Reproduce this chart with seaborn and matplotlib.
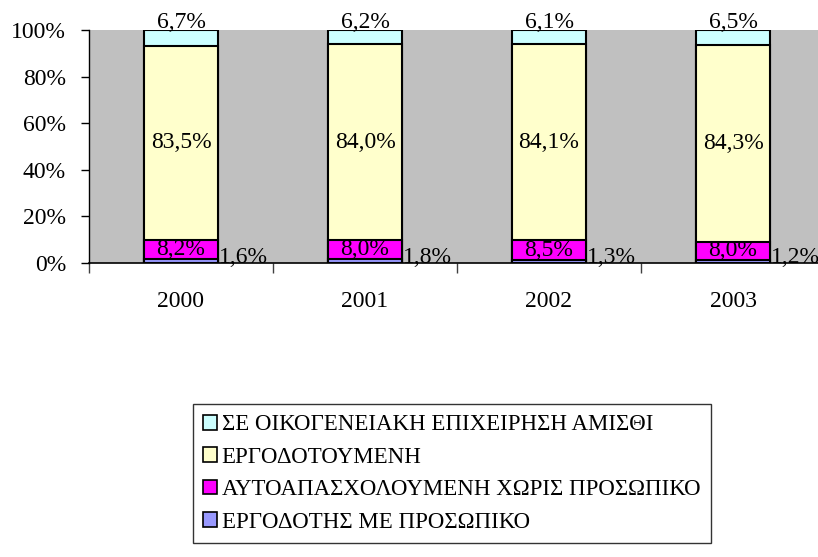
import pandas as pd
import seaborn as sns
import matplotlib.pyplot as plt
from matplotlib.patches import Patch
from matplotlib.ticker import FixedLocator

# Dados (% por ano)
anos = ["2000", "2001", "2002", "2003"]
series = [
    "ΕΡΓΟΔΟΤΗΣ ΜΕ ΠΡΟΣΩΠΙΚΟ",
    "ΑΥΤΟΑΠΑΣΧΟΛΟΥΜΕΝΗ ΧΩΡΙΣ ΠΡΟΣΩΠΙΚΟ",
    "ΕΡΓΟΔΟΤΟΥΜΕΝΗ",
    "ΣΕ ΟΙΚΟΓΕΝΕΙΑΚΗ ΕΠΙΧΕΙΡΗΣΗ ΑΜΙΣΘΙ",
]
ergodotis = [1.6, 1.8, 1.3, 1.2]
aftoapasx = [8.2, 8.0, 8.5, 8.0]
ergodotoumeni = [83.5, 84.0, 84.1, 84.3]
oikogeneiaki = [6.7, 6.2, 6.1, 6.5]
cores = ["#9999FF", "#FF00FF", "#FFFFCC", "#CCFFFF"]

valores = [ergodotis, aftoapasx, ergodotoumeni, oikogeneiaki]
df = pd.DataFrame({"ANO": anos})
for nome, vals in zip(series, valores):
    df[nome] = vals

sns.set_theme(style="white")
plt.rcParams["font.family"] = ["Liberation Serif", "DejaVu Serif"]
plt.rcParams["text.color"] = "black"
plt.rcParams["xtick.color"] = "black"
plt.rcParams["ytick.color"] = "black"

fig = plt.figure(figsize=(8.18, 5.57), dpi=100)
ax = fig.add_axes([89 / 818, 1 - 263 / 557, 736 / 818, 233 / 557])
ax.set_facecolor("#C0C0C0")

# Barras empilhadas: desenhar acumulados do topo para a base
acum = df[series].cumsum(axis=1)
for i in reversed(range(len(series))):
    sns.barplot(data=acum, x=df["ANO"], y=acum[series[i]], color=cores[i],
                width=0.4, edgecolor="black", linewidth=1.5, saturation=1,
                ax=ax, zorder=2)

fmt = lambda v: f"{v:.1f}%".replace(".", ",")
fs = 17
for j in range(len(anos)):
    base = 0
    for i, nome in enumerate(series):
        v = df.loc[j, nome]
        if i == 0:
            ax.annotate(fmt(v), (j + 0.2, 0), xytext=(1, 0), textcoords="offset points",
                        ha="left", va="baseline", fontsize=fs, color="black")
        elif i == 3:
            ax.annotate(fmt(v), (j, 100), xytext=(0, -2), textcoords="offset points",
                        ha="center", va="bottom", fontsize=fs, color="black")
        else:
            ax.text(j, base + v / 2, fmt(v), ha="center", va="center", fontsize=fs, color="black")
        base += v

ax.set_xlim(-0.5, 3.5)
ax.set_ylim(0, 100)
ax.set_yticks([0, 20, 40, 60, 80, 100])
ax.set_yticklabels([f"{t}%" for t in range(0, 101, 20)], fontsize=fs)
ax.set_xticks(range(4))
ax.set_xticklabels(anos, fontsize=fs)
ax.xaxis.set_minor_locator(FixedLocator([-0.5, 0.5, 1.5, 2.5]))
ax.tick_params(axis="x", which="major", bottom=True, length=0, pad=20)
ax.tick_params(axis="x", which="minor", bottom=True, length=7, width=1, color="#404040", direction="out")
ax.tick_params(axis="y", length=5.5, width=1, color="black", direction="out", left=True, pad=11)
ax.set_xlabel("")
ax.set_ylabel("")
for s in ["top", "right"]:
    ax.spines[s].set_visible(False)
ax.spines["bottom"].set_color("black")
ax.spines["bottom"].set_linewidth(1.2)
ax.spines["left"].set_color("black")
ax.spines["left"].set_linewidth(1)
ax.spines["bottom"].set_zorder(3)

handles = [Patch(facecolor=cores[i], edgecolor="black", linewidth=1.2, label=series[i])
           for i in reversed(range(len(series)))]
leg = fig.legend(handles=handles, loc="upper left", bbox_to_anchor=(193 / 818, 1 - 404 / 557),
                 fontsize=16.5, frameon=True, fancybox=False, edgecolor="black",
                 handlelength=0.6, handleheight=0.6, handletextpad=0.2,
                 labelspacing=0.5, borderpad=0.45, borderaxespad=0)
leg.get_frame().set_linewidth(1)

fig.savefig("out.png", dpi=100)
